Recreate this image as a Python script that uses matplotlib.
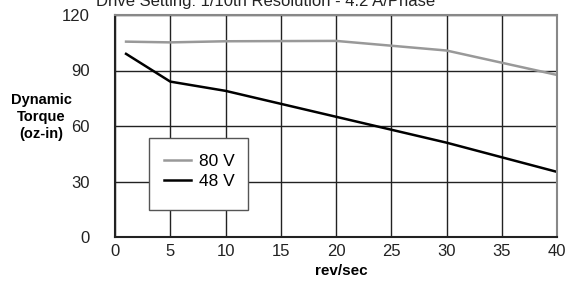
import matplotlib
matplotlib.use("Agg")
import matplotlib.pyplot as plt
from matplotlib import font_manager
from matplotlib.patches import Rectangle

names = {f.name for f in font_manager.fontManager.ttflist}
fam = ['Liberation Sans Narrow', 'Liberation Sans', 'DejaVu Sans'] if 'Liberation Sans Narrow' in names else ['Liberation Sans', 'DejaVu Sans']
plt.rcParams['font.family'] = fam

x_80 = [1, 5, 10, 20, 30, 40]
y_80 = [105.6, 105.2, 105.8, 106.0, 100.8, 87.6]
x_48 = [1, 5, 10, 20, 30, 40]
y_48 = [99, 84, 79, 65, 51, 35.2]
xticks = [0, 5, 10, 15, 20, 25, 30, 35, 40]
yticks = [0, 30, 60, 90, 120]
title = "Drive Setting: 1/10th Resolution - 4.2 A/Phase"

fig = plt.figure(figsize=(5.79, 2.85), dpi=100)
ax = fig.add_axes([115/579, 1-237/285, (557-115)/579, (237-15)/285])
ax.set_xlim(0, 40)
ax.set_ylim(0, 120)
ax.set_xticks(xticks)
ax.set_yticks(yticks)
ax.grid(True, color='#222222', linewidth=1.0)
ax.set_axisbelow(True)
ax.tick_params(length=0, labelsize=12, colors='#222222')
ax.tick_params(axis='y', pad=18)
ax.tick_params(axis='x', pad=5)
for s in ['left', 'bottom']:
    ax.spines[s].set_color('#222222')
    ax.spines[s].set_linewidth(1.5)
for s in ['top', 'right']:
    ax.spines[s].set_color('#888888')
    ax.spines[s].set_linewidth(1.5)

ax.plot(x_80, y_80, color='#999999', linewidth=1.8, label='80 V')
ax.plot(x_48, y_48, color='#000000', linewidth=1.8, label='48 V')

# legend box
ax.add_patch(Rectangle((3.1, 14.5), 8.9, 39, transform=ax.transData,
                       facecolor='white', edgecolor='#555555', linewidth=1.0, zorder=3))
leg = ax.legend(loc='upper left', bbox_to_anchor=(4.4/40, 45.0/120),
                fontsize=12.5, frameon=False, handlelength=1.6, handletextpad=0.45,
                borderaxespad=0, borderpad=0, labelspacing=0.3)
leg.set_zorder(4)

fig.text(266/579, 1-6/285, title, ha='center', va='baseline', fontsize=12, color='#222222')
fig.text(41/579, 1-117/285, "Dynamic\nTorque\n(oz-in)", ha='center', va='center',
         multialignment='center', fontsize=10.5, fontweight='bold', linespacing=1.3)
fig.text(341/579, 1-271/285, "rev/sec", ha='center', va='center', fontsize=11, fontweight='bold')

fig.savefig('out.png', dpi=100)
